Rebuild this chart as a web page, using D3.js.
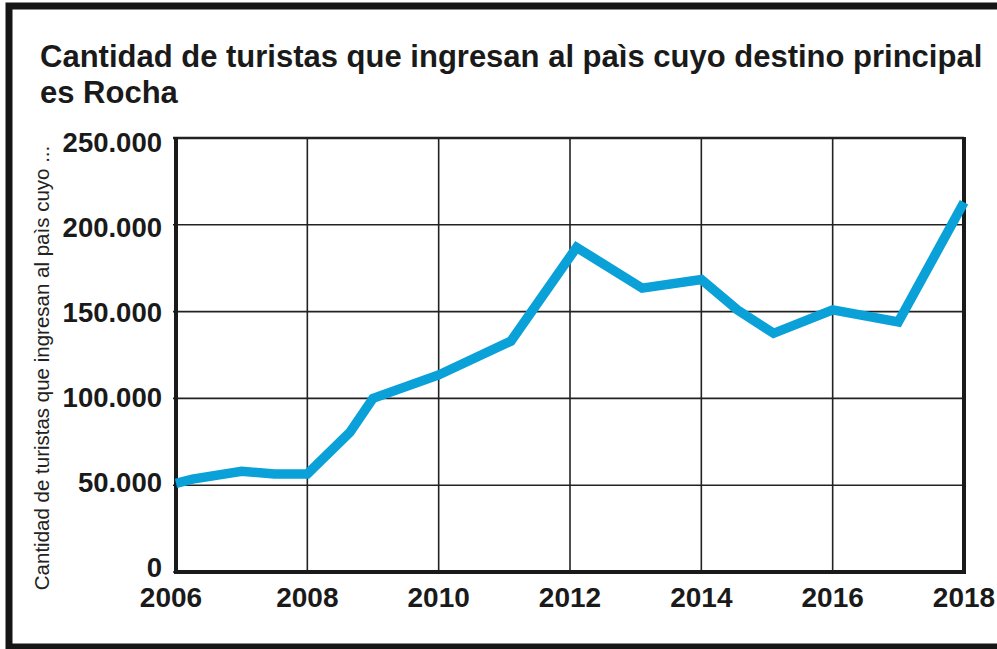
<!DOCTYPE html>
<html>
<head>
<meta charset="utf-8">
<script src="https://cdn.jsdelivr.net/npm/d3@7/dist/d3.min.js"></script>
<style>
  body { margin: 0; background: #fff; }
  svg { display: block; font-family: "Liberation Sans", Arial, sans-serif; }
</style>
</head>
<body>
<div id="chart"></div>
<script>
// data
var years = [2006, 2006.25, 2007, 2007.5, 2008, 2008.65, 2009, 2010, 2011.1, 2012.1, 2013.1, 2014, 2014.55, 2015.1, 2016, 2017, 2018]
var turistas = [51000, 53500, 58000, 56500, 56500, 80500, 100000, 113500, 133000, 187000, 163500, 168500, 151000, 137500, 151000, 144000, 213000]
var xTicks = [2006, 2008, 2010, 2012, 2014, 2016, 2018]
var yTicks = [0, 50000, 100000, 150000, 200000, 250000]
var titleLines = ['Cantidad de turistas que ingresan al paìs cuyo destino principal', 'es Rocha']
var yTitle = 'Cantidad de turistas que ingresan al paìs cuyo ...'

var w = 997
var h = 649
var margin = {left: 176, right: 33, top: 138, bottom: 77}

var svg = d3.select('#chart')
  .append('svg')
  .attr('width', w)
  .attr('height', h)

// outer frame
svg.append('rect')
  .attr('x', 9)
  .attr('y', 6)
  .attr('width', w + 20)
  .attr('height', 641)
  .attr('fill', '#fff')
  .attr('stroke', '#161616')
  .attr('stroke-width', 7)

var x = d3.scaleLinear()
  .domain([2006, 2018])
  .range([margin.left, w - margin.right])

var y = d3.scaleLinear()
  .domain([0, 250000])
  .range([h - margin.bottom, margin.top])

// tick labels sit a little tighter than the grid
var yLab = d3.scaleLinear()
  .domain([0, 250000])
  .range([567, 142])

var es = d3.formatLocale({decimal: ',', thousands: '.', grouping: [3], currency: ['', '']})
var fmt = es.format(',d')

// grid
svg.append('g')
  .selectAll('line')
  .data(yTicks)
  .enter()
  .append('line')
  .attr('x1', x(2006) - 3)
  .attr('x2', x(2018))
  .attr('y1', d => y(d))
  .attr('y2', d => y(d))
  .attr('stroke', '#222')
  .attr('stroke-width', d => d == 250000 ? 2.5 : 1.6)

svg.append('g')
  .selectAll('line')
  .data(xTicks)
  .enter()
  .append('line')
  .attr('x1', d => x(d))
  .attr('x2', d => x(d))
  .attr('y1', y(250000))
  .attr('y2', y(0))
  .attr('stroke', '#222')
  .attr('stroke-width', 1.6)

// axis lines (left, bottom, right)
svg.append('path')
  .attr('d', `M${x(2006)},${y(250000) - 1}V${y(0)}H${x(2018)}V${y(250000) - 1}`)
  .attr('fill', 'none')
  .attr('stroke', '#1a1a1a')
  .attr('stroke-width', 4)

// tick labels
svg.append('g')
  .selectAll('text')
  .data(yTicks)
  .enter()
  .append('text')
  .attr('x', 162)
  .attr('y', d => yLab(d))
  .attr('dy', '0.36em')
  .attr('text-anchor', 'end')
  .attr('font-size', 27.5)
  .attr('font-weight', 'bold')
  .attr('fill', '#1a1a1a')
  .text(d => fmt(d))

svg.append('g')
  .selectAll('text')
  .data(xTicks)
  .enter()
  .append('text')
  .attr('x', d => d == 2006 ? x(d) - 5 : x(d))
  .attr('y', 607)
  .attr('text-anchor', 'middle')
  .attr('font-size', 28)
  .attr('font-weight', 'bold')
  .attr('fill', '#1a1a1a')
  .text(d => d)

// y axis title
svg.append('text')
  .attr('transform', `translate(49, ${(150 + 586) / 2}) rotate(-90)`)
  .attr('text-anchor', 'middle')
  .attr('font-size', 20.5)
  .attr('fill', '#222')
  .text(yTitle)

// title
svg.append('g')
  .selectAll('text')
  .data(titleLines)
  .enter()
  .append('text')
  .attr('x', 40)
  .attr('y', (d, i) => 67 + i * 36)
  .attr('font-size', 31)
  .attr('font-weight', 'bold')
  .attr('fill', '#1a1a1a')
  .text(d => d)

// the line
var line = d3.line()
  .x((d, i) => x(years[i]))
  .y(d => y(d))

svg.append('path')
  .datum(turistas)
  .attr('d', line)
  .attr('fill', 'none')
  .attr('stroke', '#0aa0d8')
  .attr('stroke-width', 9.5)
  .attr('stroke-linejoin', 'miter')
</script>
</body>
</html>
